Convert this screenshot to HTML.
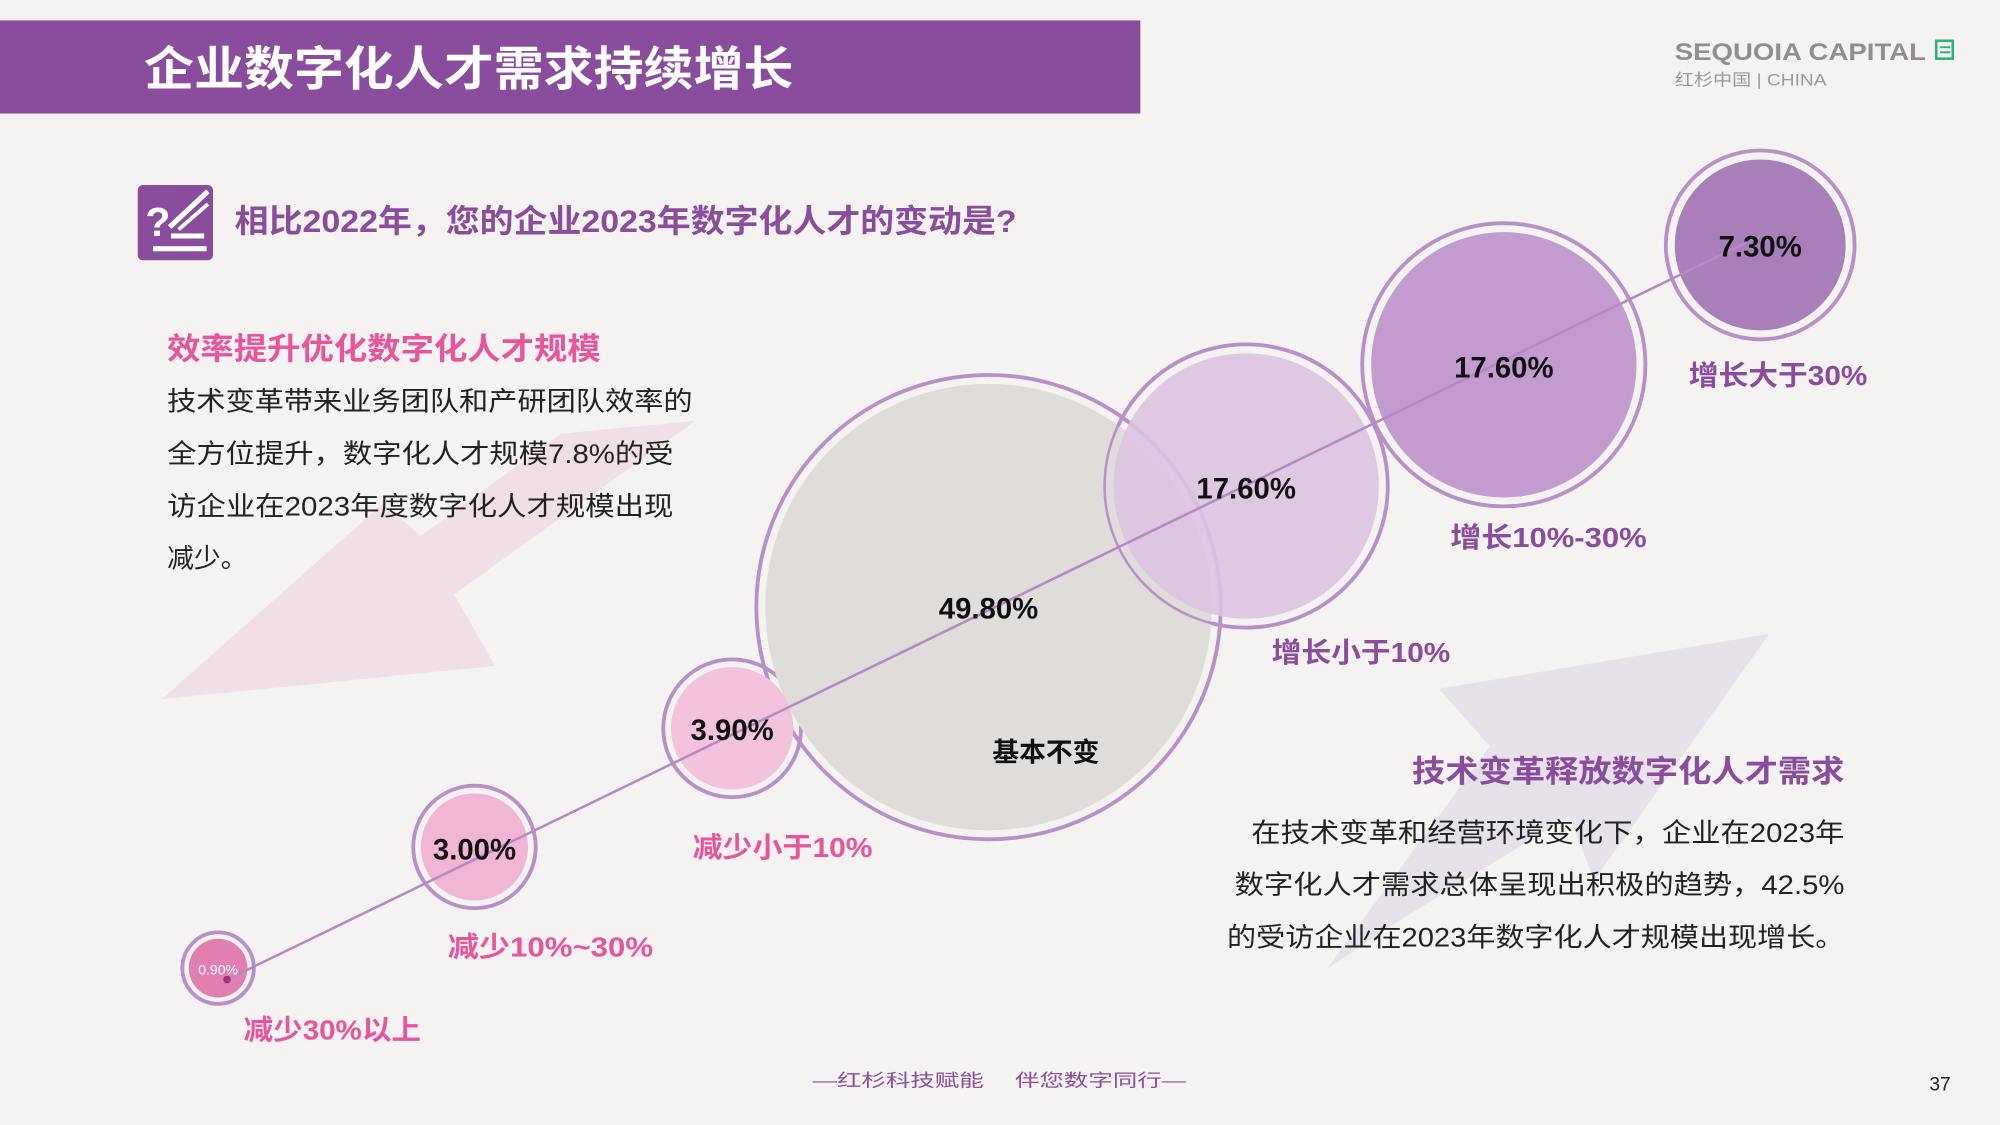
<!DOCTYPE html>
<html><head><meta charset="utf-8"><style>
html,body{margin:0;padding:0;background:#f4f3f1;}
svg{display:block}
text{font-family:"Liberation Sans","Noto Sans CJK SC",sans-serif;}
</style></head><body>
<svg width="2000" height="1125" viewBox="0 0 1568 882" xmlns="http://www.w3.org/2000/svg">
<rect width="1568" height="882" fill="#f4f3f1"/>
<!-- decorative arrows -->
<polygon points="127,548 388,522 356,466 545,330 440,340 330,420 300,395" fill="#f0dde6" opacity="0.9"/>
<polygon points="1387,497 1128,540 1168,585 1040,760 1100,720 1230,640 1250,690" fill="#e6dfe8" opacity="0.9"/>
<!-- title bar -->
<rect x="0" y="16" width="894" height="73" fill="#8a4c9c"/>
<text x="113" y="67" font-size="37" font-weight="bold" fill="#fff" textLength="509" lengthAdjust="spacingAndGlyphs">企业数字化人才需求持续增长</text>
<!-- logo -->
<text x="1313" y="47" font-size="19" font-weight="bold" fill="#8f8f8f" textLength="197" lengthAdjust="spacingAndGlyphs">SEQUOIA CAPITAL</text>
<rect x="1518" y="32" width="13" height="14" fill="none" stroke="#2db07a" stroke-width="2"/>
<line x1="1521" y1="37" x2="1529" y2="37" stroke="#2db07a" stroke-width="1.5"/>
<line x1="1521" y1="41" x2="1529" y2="41" stroke="#2db07a" stroke-width="1.5"/>
<text x="1313" y="67" font-size="13" fill="#9a9a9a" textLength="119" lengthAdjust="spacingAndGlyphs">红杉中国 | CHINA</text>
<!-- icon -->
<rect x="108" y="145" width="59" height="59" rx="4" fill="#8a4c9c"/>
<text x="114" y="185" font-size="32" font-weight="bold" fill="#fff">?</text>
<line x1="133" y1="178" x2="163" y2="150" stroke="#fff" stroke-width="4"/>
<line x1="140" y1="180" x2="163" y2="160" stroke="#fff" stroke-width="3"/>
<rect x="134" y="183" width="26" height="4" fill="#fff"/>
<rect x="120" y="193" width="42" height="4" fill="#fff"/>
<text x="184" y="182" font-size="25" font-weight="bold" fill="#8a4c9c" textLength="613" lengthAdjust="spacingAndGlyphs">相比2022年，您的企业2023年数字化人才的变动是?</text>
<!-- left text -->
<text x="131" y="282" font-size="24" font-weight="bold" fill="#e8559a" textLength="340" lengthAdjust="spacingAndGlyphs">效率提升优化数字化人才规模</text>
<g font-size="21" fill="#222">
<text x="131" y="322" textLength="412" lengthAdjust="spacingAndGlyphs">技术变革带来业务团队和产研团队效率的</text>
<text x="131" y="363" textLength="397" lengthAdjust="spacingAndGlyphs">全方位提升，数字化人才规模7.8%的受</text>
<text x="131" y="404" textLength="397" lengthAdjust="spacingAndGlyphs">访企业在2023年度数字化人才规模出现</text>
<text x="131" y="445">减少。</text>
</g>
<!-- bubbles -->
<g stroke="#b98fc8" stroke-width="3">
<circle cx="775" cy="476" r="182" fill="none"/>
<circle cx="977" cy="381" r="111" fill="none"/>
<circle cx="1179" cy="286" r="111" fill="none"/>
<circle cx="1380" cy="192" r="74" fill="none"/>
<circle cx="574" cy="571" r="54" fill="none"/>
<circle cx="372" cy="664" r="48" fill="none"/>
<circle cx="171" cy="759" r="28" fill="none"/>
</g>
<g stroke="none">
<circle cx="775" cy="476" r="175" fill="#e0dcd9"/>
<circle cx="977" cy="381" r="104" fill="#dcc3e0" opacity="0.9"/>
<circle cx="1179" cy="286" r="104" fill="#c49bcf"/>
<circle cx="1380" cy="192" r="67" fill="#a97fba"/>
<circle cx="574" cy="571" r="48" fill="#f3c2dc"/>
<circle cx="372" cy="664" r="42" fill="#f0b6d3"/>
<circle cx="171" cy="759" r="23" fill="#e07fb0"/>
</g>
<circle cx="977" cy="381" r="111" fill="none" stroke="#b98fc8" stroke-width="2"/>
<line x1="178" y1="768" x2="1380" y2="185" stroke="#b48ac4" stroke-width="2"/>
<circle cx="178" cy="768" r="3" fill="#a0307a"/>
<!-- values -->
<g font-size="23" font-weight="bold" fill="#111" text-anchor="middle">
<text x="1380" y="201">7.30%</text>
<text x="1179" y="296">17.60%</text>
<text x="977" y="391">17.60%</text>
<text x="775" y="485">49.80%</text>
<text x="574" y="580">3.90%</text>
<text x="372" y="674">3.00%</text>
</g>
<text x="171" y="764" font-size="11" fill="#fff" text-anchor="middle">0.90%</text>
<text x="820" y="597" font-size="21" font-weight="bold" fill="#111" text-anchor="middle">基本不变</text>
<!-- labels -->
<g font-size="22" font-weight="bold">
<text x="191" y="815" fill="#e8559a" textLength="139" lengthAdjust="spacingAndGlyphs">减少30%以上</text>
<text x="351" y="750" fill="#e8559a" textLength="161" lengthAdjust="spacingAndGlyphs">减少10%~30%</text>
<text x="543" y="672" fill="#e8559a" textLength="141" lengthAdjust="spacingAndGlyphs">减少小于10%</text>
<text x="997" y="519" fill="#8a4c9c" textLength="140" lengthAdjust="spacingAndGlyphs">增长小于10%</text>
<text x="1137" y="429" fill="#8a4c9c" textLength="154" lengthAdjust="spacingAndGlyphs">增长10%-30%</text>
<text x="1324" y="302" fill="#8a4c9c" textLength="140" lengthAdjust="spacingAndGlyphs">增长大于30%</text>
</g>
<!-- right text -->
<text x="1107" y="613" font-size="24" font-weight="bold" fill="#8a4c9c" textLength="339" lengthAdjust="spacingAndGlyphs">技术变革释放数字化人才需求</text>
<g font-size="21" fill="#222">
<text x="981" y="660" textLength="465" lengthAdjust="spacingAndGlyphs">在技术变革和经营环境变化下，企业在2023年</text>
<text x="968" y="701" textLength="478" lengthAdjust="spacingAndGlyphs">数字化人才需求总体呈现出积极的趋势，42.5%</text>
<text x="962" y="742" textLength="484" lengthAdjust="spacingAndGlyphs">的受访企业在2023年数字化人才规模出现增长。</text>
</g>
<!-- footer -->
<text x="637" y="852" font-size="14" fill="#8a4c9c" textLength="293" lengthAdjust="spacingAndGlyphs">—红杉科技赋能　 伴您数字同行—</text>
<text x="1521" y="855" font-size="15" fill="#222" text-anchor="middle">37</text>
</svg>
</body></html>
